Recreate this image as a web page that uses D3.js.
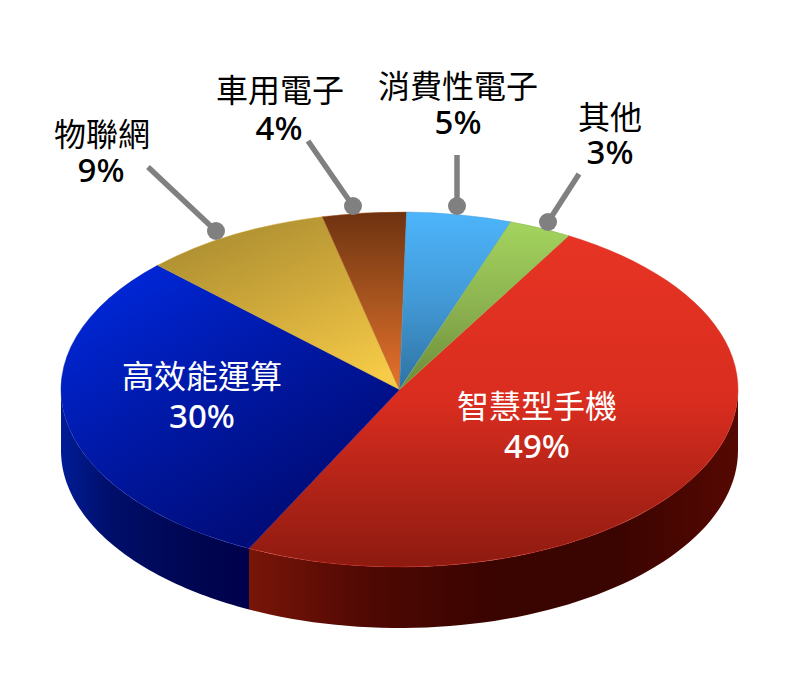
<!DOCTYPE html>
<html>
<head>
<meta charset="utf-8">
<script src="https://d3js.org/d3.v7.min.js"></script>
<style>
  html, body { margin: 0; padding: 0; background: #fff; }
  svg { display: block; }
  text { text-anchor: middle; }
</style>
</head>
<body>
<div id="chart"></div>
<script>
//Chart values, clockwise from the top right edge of the red slice
var categories = ['智慧型手機', '高效能運算', '物聯網', '車用電子', '消費性電子', '其他'];
var shares = [49, 30, 9, 4, 5, 3];

//Top face colours per slice
var topColors = [
	['#e73424', '#d92d1f', '#8d1a10'],
	['#0029de', '#0019a8', '#000c78'],
	['#a98c30', '#cfa93b', '#f6cb47'],
	['#6e3210', '#a8551f', '#ea712d'],
	['#4db5fc', '#4299d6', '#2f72a2'],
	['#a4d45e', '#8cb350', '#6c8a37']
];
//Side wall colours, left to right (only the two front slices show a wall)
var wallColors = [
	['#781508', '#4e0803', '#3a0400', '#3a0400', '#560802'],
	['#001c96', '#000f6c', '#000a5c', '#00054f', '#00004c']
];

//Label layout: text centres and baselines
var labelLayout = [
	{ x: 537, x2: 537, y1: 418, y2: 458, color: '#fff' },
	{ x: 202, x2: 202, y1: 388, y2: 428, color: '#fff' },
	{ x: 102, x2: 101, y1: 146, y2: 182, color: '#000' },
	{ x: 280, x2: 279, y1: 102, y2: 140, color: '#000' },
	{ x: 458, x2: 458, y1: 98, y2: 134, color: '#000' },
	{ x: 610, x2: 610, y1: 129, y2: 164, color: '#000' }
];
//Callouts: line start and dot centre
var callouts = [
	{ x1: 148, y1: 167, x2: 216, y2: 231 },
	{ x1: 308, y1: 141, x2: 353, y2: 206 },
	{ x1: 457, y1: 155, x2: 457, y2: 206 },
	{ x1: 579, y1: 174, x2: 548, y2: 222 }
];

var width = 802, height = 676;
var cx = 399.5, cy = 389.5, rx = 338.5, ry = 177.5, depth = 61;
var startAngle = 30 * Math.PI / 180;

var svg = d3.select('#chart').append('svg')
	.attr('width', width)
	.attr('height', height);

var defs = svg.append('defs');

//Gradients
topColors.forEach(function(c, i) {
	var diagonal = i === 1 || i === 2;
	var grad = defs.append('linearGradient')
		.attr('id', 'top' + i)
		.attr('x1', diagonal ? (i === 1 ? 0.12 : 0.2) : 0)
		.attr('y1', 0)
		.attr('x2', diagonal ? (i === 1 ? 0.72 : 0.8) : 0)
		.attr('y2', i === 1 ? 0.85 : 1);
	c.forEach(function(col, j) {
		grad.append('stop')
			.attr('offset', j / (c.length - 1))
			.attr('stop-color', col);
	});
});
wallColors.forEach(function(c, i) {
	var grad = defs.append('linearGradient').attr('id', 'wall' + i);
	c.forEach(function(col, j) {
		grad.append('stop')
			.attr('offset', j / (c.length - 1))
			.attr('stop-color', col);
	});
});

var pie = d3.pie()
	.sort(null)
	.startAngle(startAngle)
	.endAngle(startAngle + 2 * Math.PI);
var slices = pie(shares);

//Ellipse scale: the arc is drawn round and squashed by the transform
var arc = d3.arc().innerRadius(0).outerRadius(rx);

//Side walls, only the part of each slice between 90 and 270 degrees
var rim = function(a, drop) {
	return [cx + rx * Math.sin(a), cy - ry * Math.cos(a) + drop];
};
var line = d3.line();

slices.forEach(function(s, i) {
	var a0 = Math.max(s.startAngle, Math.PI / 2);
	var a1 = Math.min(s.endAngle, 3 * Math.PI / 2);
	if (a1 <= a0) return;
	var steps = d3.range(0, 61).map(function(k) { return a0 + (a1 - a0) * k / 60; });
	var pts = steps.map(function(a) { return rim(a, 0); })
		.concat(steps.slice().reverse().map(function(a) { return rim(a, depth); }));
	svg.append('path')
		.attr('d', line(pts) + 'Z')
		.attr('fill', 'url(#wall' + i + ')');
});

//Top face
svg.append('g')
	.attr('transform', 'translate(' + cx + ',' + cy + ') scale(1,' + (ry / rx) + ')')
	.selectAll('path')
	.data(slices)
	.enter()
	.append('path')
	.attr('d', arc)
	.attr('fill', function(d, i) { return 'url(#top' + i + ')'; })
	.attr('stroke', function(d, i) { return topColors[i][1]; })
	.attr('stroke-width', 0.6);

//Callouts
svg.selectAll('line.callout')
	.data(callouts)
	.enter()
	.append('line')
	.attr('class', 'callout')
	.attr('x1', function(d) { return d.x1; })
	.attr('y1', function(d) { return d.y1; })
	.attr('x2', function(d) { return d.x2; })
	.attr('y2', function(d) { return d.y2; })
	.attr('stroke', '#808080')
	.attr('stroke-width', 5.5);

svg.selectAll('circle.callout')
	.data(callouts)
	.enter()
	.append('circle')
	.attr('class', 'callout')
	.attr('cx', function(d) { return d.x2; })
	.attr('cy', function(d) { return d.y2; })
	.attr('r', 9)
	.attr('fill', '#808080');

//Labels, name and share as two lines of one text
categories.forEach(function(name, i) {
	var l = labelLayout[i];
	var label = svg.append('text').attr('fill', l.color);
	label.append('tspan')
		.attr('x', l.x)
		.attr('y', l.y1)
		.style('font-family', '"Noto Sans CJK TC"')
		.style('font-size', '32px')
		.text(name);
	label.append('tspan')
		.attr('x', l.x2)
		.attr('y', l.y2)
		.style('font-family', '"Noto Sans", "Open Sans"')
		.style('font-size', '33px')
		.style('font-weight', 500)
		.text(shares[i] + '%');
});
</script>
</body>
</html>
